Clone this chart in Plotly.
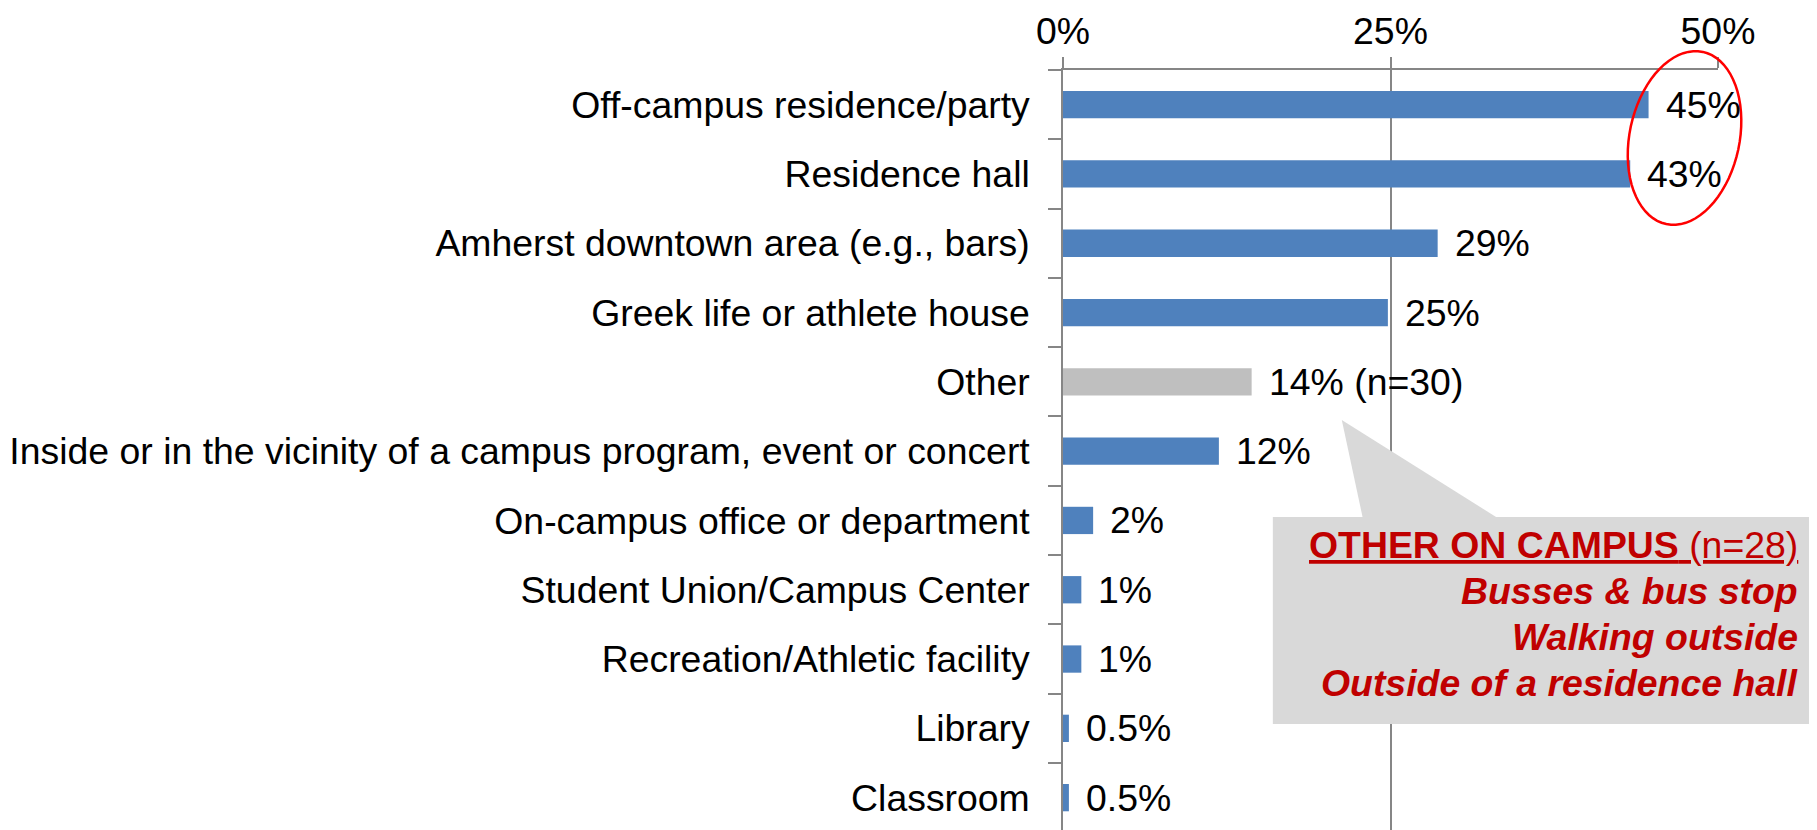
import math
import plotly.graph_objects as go

categories = [
    "Off-campus residence/party",
    "Residence hall",
    "Amherst downtown area (e.g., bars)",
    "Greek life or athlete house",
    "Other",
    "Inside or in the vicinity of a campus program, event or concert",
    "On-campus office or department",
    "Student Union/Campus Center",
    "Recreation/Athletic facility",
    "Library",
    "Classroom",
]
values = [44.7, 43.3, 28.6, 24.8, 14.4, 11.9, 2.3, 1.4, 1.4, 0.45, 0.45]
value_labels = ["45%", "43%", "29%", "25%", "14% (n=30)", "12%", "2%", "1%", "1%", "0.5%", "0.5%"]
bar_colors = ["#4F81BD"] * 4 + ["#BFBFBF"] + ["#4F81BD"] * 6
tick_vals = [0, 25, 50]
tick_text = ["0%", "25%", "50%"]
callout_lines = [
    "<u><b>OTHER ON CAMPUS</b> (n=28)</u>",
    "<b><i>Busses &amp; bus stop</i></b>",
    "<b><i>Walking outside</i></b>",
    "<b><i>Outside of a residence hall</i></b>",
]
callout_line_y = [545, 591, 637, 683]

# page body has an 8px default margin; compensate so screen positions match
OFF = 8
W, H = 1817, 830
L = 1063 - OFF
T = 70 - OFF
B = H - (830 - OFF)
R = W - (1718.5 - OFF)
PW = W - L - R
PH = H - T - B
FONT = "Liberation Sans, Arial, sans-serif"
FS = 37.4
GRAY = "#868686"


def px(xs):
    return (xs - OFF - L) / PW


def py(ys):
    return (H - B - (ys - OFF)) / PH


fig = go.Figure(
    go.Bar(
        x=values,
        y=categories,
        orientation="h",
        marker=dict(color=bar_colors, line=dict(width=0)),
        width=0.394,
        hoverinfo="skip",
    )
)

annotations = []
for c, v, t in zip(categories, values, value_labels):
    annotations.append(dict(
        x=v, y=c, xref="x", yref="y", text=t, showarrow=False,
        xanchor="left", yanchor="middle", xshift=15,
        font=dict(family=FONT, size=FS, color="#000000"),
    ))

# callout text
for line, ly in zip(callout_lines, callout_line_y):
    annotations.append(dict(
        x=px(1801), y=py(ly), xref="paper", yref="paper",
        text=line, showarrow=False,
        xanchor="right", yanchor="middle", align="right",
        font=dict(family=FONT, size=FS, color="#C00000"),
    ))

shapes = []
# callout pointer
shapes.append(dict(
    type="path", xref="paper", yref="paper",
    path=f"M {px(1342)} {py(420)} L {px(1363)} {py(518)} L {px(1498)} {py(518)} Z",
    fillcolor="#D9D9D9", line=dict(width=0), layer="above",
))
# callout box
shapes.append(dict(
    type="rect", xref="paper", yref="paper",
    x0=px(1273), x1=px(1840), y0=py(724), y1=py(517),
    fillcolor="#D9D9D9", line=dict(width=0), layer="above",
))

# red ellipse (rotated)
cx, cy, a, b, th = 1685.0, 138.0, 88.0, 55.0, math.radians(12)
ux, uy = math.sin(th), -math.cos(th)
vx, vy = math.cos(th), math.sin(th)
pts = []
for i in range(73):
    t = 2 * math.pi * i / 72
    xx = cx + a * math.cos(t) * ux + b * math.sin(t) * vx
    yy = cy + a * math.cos(t) * uy + b * math.sin(t) * vy
    pts.append((px(xx), py(yy)))
path = "M " + " L ".join(f"{x:.5f} {y:.5f}" for x, y in pts) + " Z"
shapes.append(dict(
    type="path", xref="paper", yref="paper", path=path,
    line=dict(color="#FF0000", width=2.5), fillcolor="rgba(0,0,0,0)", layer="above",
))

fig.update_layout(
    width=W, height=H,
    margin=dict(l=L, r=R, t=T, b=B, pad=0, autoexpand=False),
    plot_bgcolor="white", paper_bgcolor="white",
    showlegend=False,
    bargap=0.6,
    annotations=annotations,
    shapes=shapes,
    font=dict(family=FONT, size=FS, color="#000000"),
    xaxis=dict(
        side="top", range=[0, 50], tickvals=tick_vals, ticktext=tick_text,
        showgrid=True, gridcolor=GRAY, gridwidth=1.5,
        showline=True, linecolor=GRAY, linewidth=1.5,
        ticks="outside", ticklen=11, tickcolor=GRAY, tickwidth=1.5,
        zeroline=False, ticklabelstandoff=-2, automargin=False,
        tickfont=dict(family=FONT, size=FS, color="#000000"),
    ),
    yaxis=dict(
        type="category", categoryorder="array", categoryarray=categories,
        range=[10.467, -0.5],
        showline=True, linecolor=GRAY, linewidth=1.5,
        ticks="outside", ticklen=13, tickcolor=GRAY, tickwidth=1.5,
        tickson="boundaries", showgrid=False, zeroline=False,
        ticklabelstandoff=24, automargin=False,
        tickfont=dict(family=FONT, size=FS, color="#000000"),
    ),
)

fig.write_html("out.html")
